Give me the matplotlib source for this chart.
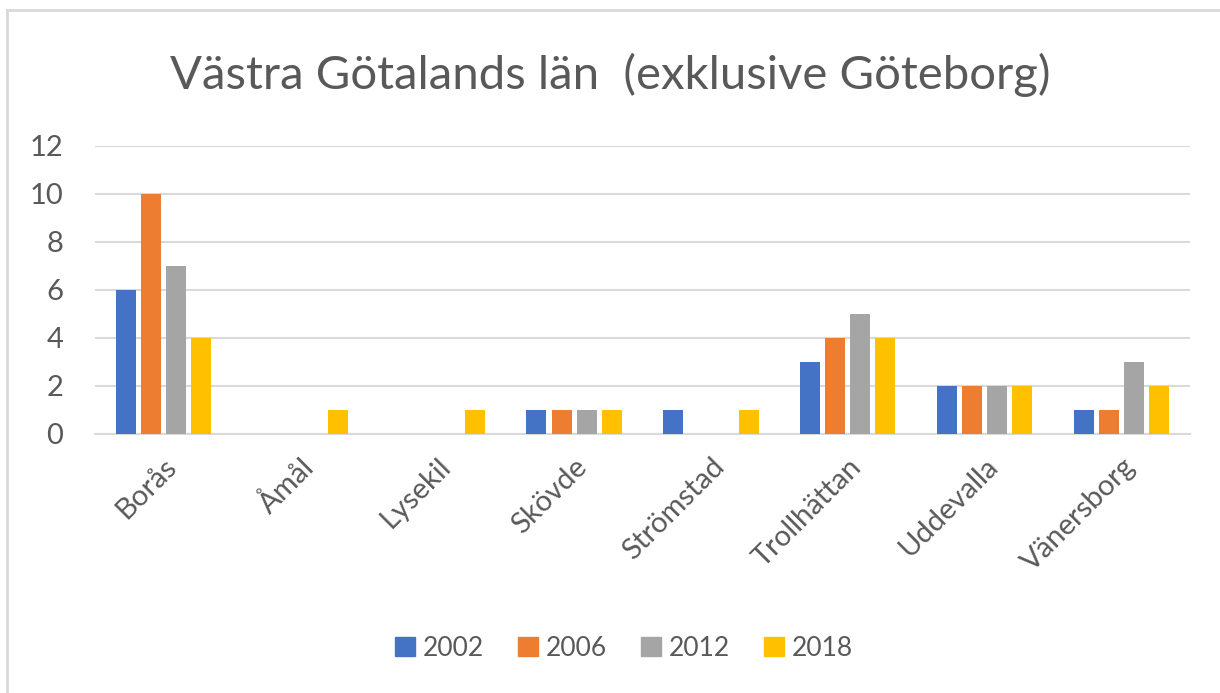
import numpy as np
import matplotlib.pyplot as plt
from matplotlib.lines import Line2D

plt.rcParams['font.family'] = ['Lato', 'DejaVu Sans']

# Data
cities = ["Borås", "Åmål", "Lysekil", "Skövde", "Strömstad", "Trollhättan", "Uddevalla", "Vänersborg"]
years = ["2002", "2006", "2012", "2018"]
v2002 = [6, 0, 0, 1, 1, 3, 2, 1]
v2006 = [10, 0, 0, 1, 0, 4, 2, 1]
v2012 = [7, 0, 0, 1, 0, 5, 2, 3]
v2018 = [4, 1, 1, 1, 1, 4, 2, 2]
series = [v2002, v2006, v2012, v2018]
colors = ["#4472C4", "#ED7D31", "#A5A5A5", "#FFC000"]

txt = "#595959"
fig = plt.figure(figsize=(12.2, 6.93), dpi=100)
ax = fig.add_axes([95/1220, 1 - 434/693, 1095/1220, 288/693])

x = np.arange(len(cities))
step = 0.183
width = 0.146
for i, (vals, c) in enumerate(zip(series, colors)):
    ax.bar(x + (i - 1.5) * step, vals, width=width, color=c, label=years[i], zorder=3)

ax.set_xlim(-0.5, len(cities) - 0.5)
ax.set_ylim(0, 12)
ax.set_yticks(range(0, 13, 2))
ax.grid(axis='y', color='#D9D9D9', linewidth=1.5, zorder=0)
for s in ['top', 'right', 'left']:
    ax.spines[s].set_visible(False)
ax.spines['bottom'].set_color('#D9D9D9')
ax.spines['bottom'].set_linewidth(1.5)
ax.tick_params(axis='both', length=0, labelsize=21, labelcolor=txt)
ax.tick_params(axis='y', pad=23)
ax.set_xticks(x)
ax.set_xticklabels(cities, rotation=45, ha='right', rotation_mode='anchor')
ax.tick_params(axis='x', pad=14)

fig.text(0.5, 1 - 75/693, "Västra Götalands län  (exklusive Göteborg)", ha='center', va='center',
         fontsize=34, color=txt)

handles = [plt.Rectangle((0, 0), 1, 1, color=c) for c in colors]
fig.legend(handles, years, loc='center', bbox_to_anchor=(624/1220, 1 - 648/693), ncol=4,
           frameon=False, fontsize=19, labelcolor=txt, handlelength=0.75, handleheight=0.75,
           handletextpad=0.3, columnspacing=1.3)

# chart border (left and top visible)
fig.add_artist(Line2D([7/1220, 7/1220], [0, 1 - 10/693], color='#D9D9D9', lw=2, transform=fig.transFigure))
fig.add_artist(Line2D([7/1220, 1], [1 - 10/693, 1 - 10/693], color='#D9D9D9', lw=2, transform=fig.transFigure))

fig.savefig("out.png", dpi=100, facecolor='white')
